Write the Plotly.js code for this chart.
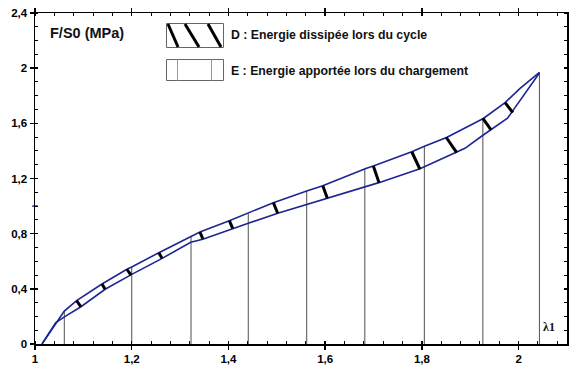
<!DOCTYPE html>
<html><head><meta charset="utf-8">
<script src="https://cdn.plot.ly/plotly-3.0.1.min.js"></script>
<style>html,body{margin:0;padding:0;background:#fff}</style>
</head><body><div id="chart" style="width:569px;height:374px"></div>
<script>
// Tick labels
const xTickVals = [1, 1.2, 1.4, 1.6, 1.8, 2];
const xTickText = ['1', '1,2', '1,4', '1,6', '1,8', '2'];
const yTickVals = [0, 0.4, 0.8, 1.2, 1.6, 2, 2.4];
const yTickText = ['0', '0,4', '0,8', '1,2', '1,6', '2', '2,4'];

// Loading curve (upper)
const loadX = [1.0145, 1.0606, 1.086, 1.1385, 1.19, 1.2, 1.256, 1.3205, 1.341, 1.4018, 1.441, 1.4928, 1.5618, 1.595, 1.684, 1.6996, 1.779, 1.8065, 1.851, 1.927, 1.972, 2.003, 2.043];
const loadY = [0, 0.239, 0.314, 0.435, 0.542, 0.558, 0.662, 0.778, 0.812, 0.894, 0.948, 1.025, 1.109, 1.148, 1.272, 1.291, 1.394, 1.436, 1.498, 1.635, 1.75, 1.854, 1.97];

// Unloading curve (lower)
const unloadX = [1.0145, 1.043, 1.06, 1.095, 1.145, 1.2, 1.263, 1.322, 1.347, 1.409, 1.441, 1.502, 1.562, 1.605, 1.684, 1.711, 1.796, 1.872, 1.889, 1.924, 1.977, 2.043];
const unloadY = [0, 0.155, 0.195, 0.27, 0.397, 0.505, 0.621, 0.738, 0.759, 0.839, 0.875, 0.948, 1.011, 1.057, 1.136, 1.17, 1.27, 1.39, 1.419, 1.508, 1.637, 1.965];

// Vertical lines (energy supplied during loading)
const dropX = [1.0606, 1.2, 1.3226, 1.441, 1.5618, 1.682, 1.805, 1.926, 2.043];
const dropTop = [0.239, 0.558, 0.785, 0.948, 1.109, 1.27, 1.436, 1.635, 1.97];

// Hatch marks (energy dissipated during the cycle)
const hatchTopX = [1.086, 1.1385, 1.19, 1.256, 1.341, 1.4018, 1.4928, 1.595, 1.6996, 1.779, 1.85, 1.9257, 1.972];
const hatchTopY = [0.314, 0.435, 0.542, 0.662, 0.812, 0.894, 1.025, 1.148, 1.291, 1.394, 1.499, 1.637, 1.75];
const hatchBotX = [1.095, 1.145, 1.1985, 1.2626, 1.347, 1.4088, 1.5018, 1.6045, 1.7113, 1.796, 1.872, 1.943, 1.988];
const hatchBotY = [0.27, 0.397, 0.50, 0.621, 0.762, 0.839, 0.948, 1.057, 1.17, 1.267, 1.387, 1.552, 1.677];

// build segment arrays
const vx = [], vy = [];
dropX.forEach((x, i) => { vx.push(x, x, null); vy.push(0, dropTop[i], null); });
const hx = [], hy = [];
hatchTopX.forEach((x, i) => { hx.push(x, hatchBotX[i], null); hy.push(hatchTopY[i], hatchBotY[i], null); });

const blue = '#1c2594';
const traces = [
  {x: vx, y: vy, mode: 'lines', line: {color: '#505050', width: 1}, hoverinfo: 'skip', connectgaps: false},
  {x: loadX, y: loadY, mode: 'lines', line: {color: blue, width: 1.6}},
  {x: unloadX, y: unloadY, mode: 'lines', line: {color: blue, width: 1.6}},
  {x: hx, y: hy, mode: 'lines', line: {color: '#000', width: 3}, connectgaps: false},
  {x: [1], y: [1], mode: 'markers', marker: {symbol: 'line-ew', size: 4, line: {color: blue, width: 1.5}}, cliponaxis: false}
];

// pixel -> paper helpers for decorations
const L = 35, T = 13, W = 532, H = 331;
const px = p => (p - L) / W;
const py = p => (T + H - p) / H;

const bold = s => '<b>' + s + '</b>';
const tickFont = {family: 'Liberation Sans, Arial, sans-serif', size: 11.5, color: '#000', weight: 'bold'};
const minorCommon = {ticks: 'inside', ticklen: 3, tickwidth: 1, tickcolor: '#000'};
const layout = {
  width: 569, height: 374,
  margin: {l: L, r: 569 - L - W, t: T, b: 374 - T - H},
  paper_bgcolor: '#fff', plot_bgcolor: '#fff',
  showlegend: false,
  separators: ', ',
  xaxis: {
    range: [1, 2.1], tickvals: xTickVals, ticktext: xTickText.map(bold),
    ticks: 'outside', ticklen: 4, tickwidth: 1.5, tickcolor: '#000',
    minor: Object.assign({dtick: 0.04, tick0: 1}, minorCommon),
    showline: true, linecolor: '#000', linewidth: 1.5, mirror: 'allticks',
    showgrid: false, zeroline: false, tickfont: tickFont
  },
  xaxis2: {
    overlaying: 'x', matches: 'x', range: [1, 2.1], tickvals: xTickVals, showticklabels: false,
    ticks: 'inside', ticklen: 3, tickwidth: 1.5, tickcolor: '#000', mirror: 'allticks',
    showline: false, showgrid: false, zeroline: false
  },
  yaxis: {
    range: [0, 2.4], tickvals: yTickVals, ticktext: yTickText.map(bold),
    ticks: 'outside', ticklen: 4, tickwidth: 1.5, tickcolor: '#000',
    minor: Object.assign({dtick: 0.1, tick0: 0}, minorCommon),
    showline: true, linecolor: '#000', linewidth: 1.5, mirror: 'allticks',
    showgrid: false, zeroline: false, tickfont: tickFont
  },
  yaxis2: {
    overlaying: 'y', matches: 'y', range: [0, 2.4], tickvals: yTickVals, showticklabels: false,
    ticks: 'inside', ticklen: 3, tickwidth: 1.5, tickcolor: '#000', mirror: 'allticks',
    showline: false, showgrid: false, zeroline: false
  },
  shapes: [
    {type: 'rect', xref: 'paper', yref: 'paper', x0: px(166.5), x1: px(223.5), y0: py(23.5), y1: py(47.5), line: {color: '#666', width: 1}},
    {type: 'line', xref: 'paper', yref: 'paper', x0: px(168), x1: px(178), y0: py(24), y1: py(47), line: {color: '#000', width: 3}},
    {type: 'line', xref: 'paper', yref: 'paper', x0: px(185), x1: px(199), y0: py(24), y1: py(47), line: {color: '#000', width: 3}},
    {type: 'line', xref: 'paper', yref: 'paper', x0: px(208), x1: px(221), y0: py(24), y1: py(47), line: {color: '#000', width: 3}},
    {type: 'rect', xref: 'paper', yref: 'paper', x0: px(166.5), x1: px(223.5), y0: py(59.5), y1: py(80.5), line: {color: '#666', width: 1}},
    {type: 'line', xref: 'paper', yref: 'paper', x0: px(177.5), x1: px(177.5), y0: py(59.5), y1: py(80.5), line: {color: '#999', width: 1}},
    {type: 'line', xref: 'paper', yref: 'paper', x0: px(211.5), x1: px(211.5), y0: py(59.5), y1: py(80.5), line: {color: '#999', width: 1}}
  ],
  annotations: [
    {xref: 'paper', yref: 'paper', x: px(48), y: py(33), xanchor: 'left', yanchor: 'middle', showarrow: false,
     text: 'F/S0 (MPa)', font: {family: 'Liberation Sans, Arial, sans-serif', size: 14.5, color: '#111', weight: 'bold'}},
    {xref: 'paper', yref: 'paper', x: px(229), y: py(35), xanchor: 'left', yanchor: 'middle', showarrow: false,
     text: 'D : Energie dissipée lors du cycle', font: {family: 'Liberation Sans, Arial, sans-serif', size: 12.3, color: '#111', weight: 'bold'}},
    {xref: 'paper', yref: 'paper', x: px(229), y: py(71), xanchor: 'left', yanchor: 'middle', showarrow: false,
     text: 'E : Energie apportée lors du chargement', font: {family: 'Liberation Sans, Arial, sans-serif', size: 12.3, color: '#111', weight: 'bold'}},
    {xref: 'paper', yref: 'paper', x: px(541), y: py(327), xanchor: 'left', yanchor: 'middle', showarrow: false,
     text: 'λ1', font: {family: 'Liberation Serif, Times New Roman, serif', size: 12, color: '#111', weight: 'bold'}}
  ]
};
// invisible trace to activate the overlay axes (crossing major ticks)
traces.push({x: [1], y: [0], xaxis: 'x2', yaxis: 'y2', mode: 'markers', marker: {opacity: 0}, hoverinfo: 'skip'});
Plotly.newPlot('chart', traces, layout, {staticPlot: true, displayModeBar: false});
</script></body></html>
